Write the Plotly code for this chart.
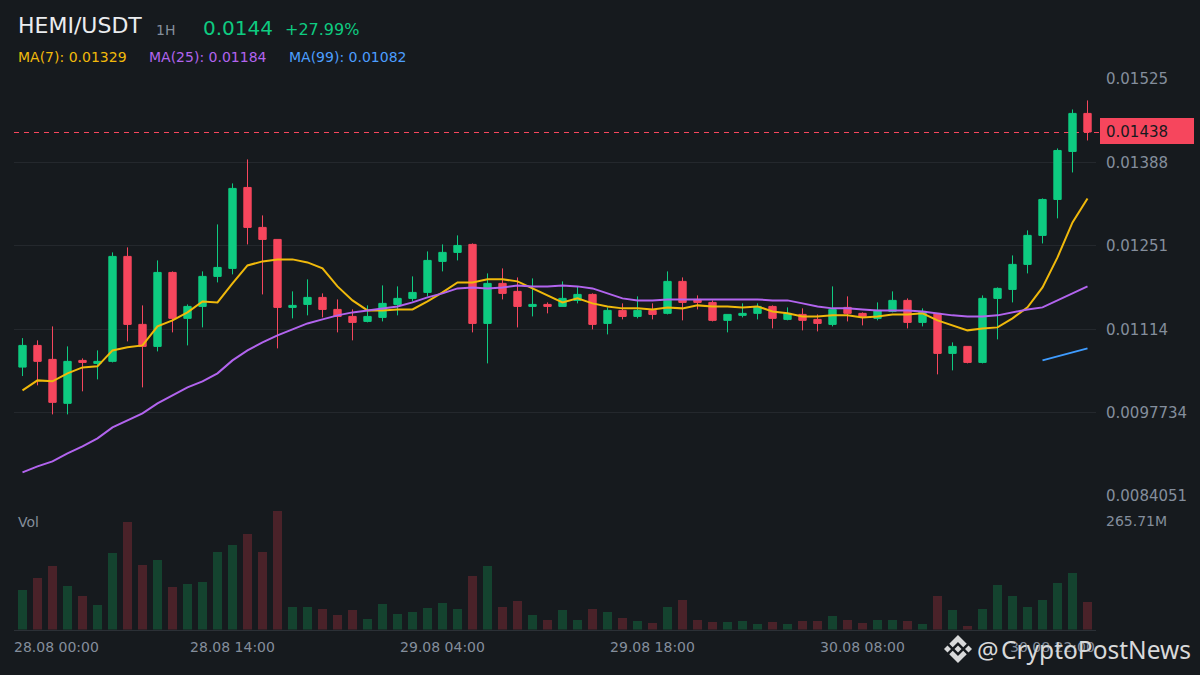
import pandas as pd
import plotly.graph_objects as go

# Données (bougies 1H)
times = pd.date_range("2025-08-28 00:00", periods=72, freq="h")

opens = [0.010521, 0.010877, 0.010648, 0.009926, 0.010631, 0.010582, 0.010615, 0.012338, 0.011222, 0.010861, 0.012075, 0.011321,
         0.011517, 0.012010, 0.012141, 0.013470, 0.012814, 0.012617, 0.011501, 0.011550, 0.011665, 0.011468, 0.011353, 0.011271,
         0.011337, 0.011550, 0.011649, 0.011747, 0.012256, 0.012404, 0.012535, 0.011238, 0.011895, 0.011764, 0.011517, 0.011550,
         0.011517, 0.011616, 0.011714, 0.011238, 0.011452, 0.011353, 0.011452, 0.011403, 0.011928, 0.011632, 0.011583, 0.011288,
         0.011370, 0.011403, 0.011517, 0.011304, 0.011386, 0.011304, 0.011222, 0.011501, 0.011403, 0.011321, 0.011435, 0.011616,
         0.011255, 0.011403, 0.010746, 0.010861, 0.010598, 0.011649, 0.011796, 0.012207, 0.012683, 0.013273, 0.014061, 0.014685]
highs = [0.010997, 0.010960, 0.011189, 0.010861, 0.010664, 0.010795, 0.012404, 0.012486, 0.011534, 0.012272, 0.012092, 0.011550,
         0.012092, 0.012863, 0.013536, 0.013930, 0.013011, 0.012617, 0.011764, 0.011961, 0.011731, 0.011632, 0.011468, 0.011534,
         0.011862, 0.011846, 0.012010, 0.012420, 0.012535, 0.012683, 0.012551, 0.012059, 0.012141, 0.011993, 0.011977, 0.011583,
         0.011928, 0.011846, 0.011731, 0.011501, 0.011567, 0.011682, 0.011567, 0.012092, 0.011993, 0.011698, 0.011616, 0.011386,
         0.011567, 0.011567, 0.011534, 0.011501, 0.011485, 0.011386, 0.011846, 0.011682, 0.011419, 0.011583, 0.011764, 0.011649,
         0.011485, 0.011403, 0.010927, 0.010861, 0.011698, 0.011829, 0.012354, 0.012765, 0.013290, 0.014110, 0.014750, 0.014898]
lows = [0.010374, 0.010221, 0.009745, 0.009745, 0.010123, 0.010319, 0.010598, 0.010943, 0.010188, 0.010779, 0.011091, 0.010877,
        0.011173, 0.011911, 0.012043, 0.012535, 0.011714, 0.010828, 0.011321, 0.011370, 0.011337, 0.011091, 0.010960, 0.011255,
        0.011271, 0.011370, 0.011599, 0.011682, 0.012092, 0.012272, 0.011091, 0.010582, 0.011632, 0.011173, 0.011353, 0.011403,
        0.011517, 0.011567, 0.011140, 0.011058, 0.011304, 0.011321, 0.011304, 0.011386, 0.011288, 0.011468, 0.011271, 0.011091,
        0.011337, 0.011304, 0.011156, 0.011288, 0.011124, 0.011107, 0.011189, 0.011271, 0.011206, 0.011288, 0.011419, 0.011156,
        0.011189, 0.010402, 0.010467, 0.010582, 0.010582, 0.010976, 0.011583, 0.012059, 0.012551, 0.012962, 0.013716, 0.014241]
closes = [0.010877, 0.010615, 0.009942, 0.010615, 0.010598, 0.010615, 0.012338, 0.011222, 0.010861, 0.012075, 0.011321, 0.011517,
          0.012010, 0.012157, 0.013454, 0.012814, 0.012617, 0.011501, 0.011534, 0.011665, 0.011468, 0.011353, 0.011255, 0.011353,
          0.011567, 0.011649, 0.011747, 0.012272, 0.012404, 0.012518, 0.011238, 0.011895, 0.011731, 0.011517, 0.011550, 0.011517,
          0.011649, 0.011714, 0.011222, 0.011452, 0.011353, 0.011452, 0.011386, 0.011928, 0.011583, 0.011583, 0.011288, 0.011386,
          0.011403, 0.011517, 0.011321, 0.011403, 0.011288, 0.011238, 0.011468, 0.011403, 0.011353, 0.011452, 0.011616, 0.011255,
          0.011435, 0.010746, 0.010861, 0.010598, 0.011649, 0.011813, 0.012207, 0.012683, 0.013273, 0.014077, 0.014685, 0.014380]

ma7 = [0.010139, 0.010303, 0.010287, 0.010418, 0.010516, 0.010533, 0.010795, 0.010845, 0.010877, 0.011189, 0.011288, 0.011419,
       0.011599, 0.011583, 0.011895, 0.012190, 0.012256, 0.012289, 0.012289, 0.012239, 0.012141, 0.011846, 0.011616, 0.011452,
       0.011452, 0.011468, 0.011468, 0.011599, 0.011747, 0.011911, 0.011911, 0.011961, 0.011961, 0.011928, 0.011813, 0.011698,
       0.011583, 0.011649, 0.011567, 0.011517, 0.011485, 0.011485, 0.011468, 0.011501, 0.011485, 0.011534, 0.011517, 0.011517,
       0.011501, 0.011517, 0.011435, 0.011403, 0.011353, 0.011353, 0.011370, 0.011370, 0.011337, 0.011353, 0.011386, 0.011386,
       0.011403, 0.011288, 0.011206, 0.011124, 0.011156, 0.011173, 0.011321, 0.011501, 0.011829, 0.012322, 0.012896, 0.013290]
ma25 = [0.008793, 0.008892, 0.008974, 0.009105, 0.009220, 0.009351, 0.009532, 0.009647, 0.009762, 0.009926, 0.010057, 0.010188,
        0.010287, 0.010418, 0.010631, 0.010795, 0.010927, 0.011042, 0.011140, 0.011238, 0.011304, 0.011370, 0.011419, 0.011452,
        0.011485, 0.011517, 0.011583, 0.011665, 0.011731, 0.011813, 0.011829, 0.011813, 0.011829, 0.011862, 0.011846, 0.011846,
        0.011862, 0.011846, 0.011813, 0.011731, 0.011649, 0.011616, 0.011616, 0.011632, 0.011632, 0.011632, 0.011632, 0.011632,
        0.011632, 0.011632, 0.011616, 0.011616, 0.011567, 0.011517, 0.011485, 0.011485, 0.011468, 0.011452, 0.011452, 0.011452,
        0.011435, 0.011403, 0.011370, 0.011353, 0.011353, 0.011370, 0.011419, 0.011468, 0.011501, 0.011616, 0.011731, 0.011846]
ma99 = [0.010631, 0.010697, 0.010763, 0.010828]

volumes = [96.8, 126.3, 155.8, 106.6, 82.0, 59.9, 187.8, 264.0, 158.3, 170.6, 104.1, 111.5,
           116.4, 190.2, 207.5, 234.5, 190.2, 291.1, 54.9, 54.9, 50.0, 35.3, 47.6, 25.4,
           62.3, 37.7, 42.6, 52.5, 64.8, 50.0, 131.2, 155.8, 54.9, 69.7, 35.3, 23.0,
           47.6, 23.0, 50.0, 42.6, 27.9, 20.5, 15.6, 54.9, 72.2, 23.0, 18.0, 18.0,
           20.5, 13.1, 18.0, 13.1, 20.5, 20.5, 32.8, 23.0, 15.6, 23.0, 23.0, 20.5,
           13.1, 82.0, 47.6, 8.2, 50.0, 109.1, 82.0, 54.9, 72.2, 114.0, 138.6, 67.2]

price_ticks = [0.01525, 0.01388, 0.01251, 0.01114, 0.0097734, 0.0084051]
price_labels = ["0.01525", "0.01388", "0.01251", "0.01114", "0.0097734", "0.0084051"]
date_ticks = ["2025-08-28 14:00", "2025-08-29 04:00", "2025-08-29 18:00", "2025-08-30 08:00"]
date_labels = ["28.08 14:00", "29.08 04:00", "29.08 18:00", "30.08 08:00"]

# Couleurs
BG = "#161A1E"
UP = "#0ECB81"
DOWN = "#F6465D"
GREY = "#848E9C"
GRID = "#24282D"
FONT = "DejaVu Sans"


# Passage des pixels de la capture au repère "paper"
def px_x(x):
    return x / 1200


def px_y(y):
    return 1 - y / 675


vol_colors = ["#14432F" if c >= o else "#4A2229" for o, c in zip(opens, closes)]

fig = go.Figure()
fig.add_trace(go.Bar(x=times, y=[v * 1e6 for v in volumes], yaxis="y2", width=3600000 * 0.6,
                     marker=dict(color=vol_colors, line=dict(width=0))))
fig.add_trace(go.Candlestick(x=times, open=opens, high=highs, low=lows, close=closes,
                             increasing=dict(line=dict(color=UP, width=1), fillcolor=UP),
                             decreasing=dict(line=dict(color=DOWN, width=1), fillcolor=DOWN),
                             whiskerwidth=0))
fig.add_trace(go.Scatter(x=times, y=ma7, mode="lines", line=dict(color="#F0B90B", width=2)))
fig.add_trace(go.Scatter(x=times, y=ma25, mode="lines", line=dict(color="#B264EE", width=2)))
fig.add_trace(go.Scatter(x=times[-4:], y=ma99, mode="lines", line=dict(color="#3F9CFF", width=2)))


def label(x, y, text, color, size, anchor="left", family=FONT):
    fig.add_annotation(x=px_x(x), y=px_y(y), xref="paper", yref="paper",
                       text=text, showarrow=False, xanchor=anchor, yanchor="middle",
                       font=dict(family=family, size=size, color=color), borderpad=0)


# Titre et légende
label(17, 26, "HEMI/USDT", "#EAECEF", 22)
label(155, 30, "1H", GREY, 14)
label(202, 28, "0.0144", UP, 20)
label(284, 29, "+27.99%", UP, 16)
label(17, 57, "MA(7): 0.01329", "#F0B90B", 14)
label(148, 57, "MA(25): 0.01184", "#B264EE", 14)
label(288, 57, "MA(99): 0.01082", "#4C9EFF", 14)
label(17, 522, "Vol", GREY, 14)

# Dates aux extrémités, décalées pour rester dans le cadre
label(13, 647, "28.08 00:00", GREY, 14)
label(1096, 647, "30.08 22:00", GREY, 14, anchor="right")

# Dernier prix
fig.add_shape(type="line", xref="paper", yref="paper", x0=px_x(14), x1=px_x(1100), y0=px_y(132.5), y1=px_y(132.5),
              line=dict(color=DOWN, width=1, dash="5px,5px"), layer="below")
fig.add_shape(type="rect", xref="paper", yref="paper", x0=px_x(1100), x1=px_x(1194), y0=px_y(118), y1=px_y(144),
              fillcolor=DOWN, line=dict(width=0))
label(1105, 132, "0.01438", BG, 15)

# Filigrane
logo_cx, logo_cy = 958, 649
logo_parts = [
    [(-8.75, -5.25), (0, -14), (8.75, -5.25), (5.25, -1.75), (0, -7), (-5.25, -1.75)],
    [(-8.75, 5.25), (0, 14), (8.75, 5.25), (5.25, 1.75), (0, 7), (-5.25, 1.75)],
    [(-3.5, 0), (0, -3.5), (3.5, 0), (0, 3.5)],
    [(-14, 0), (-10.5, -3.5), (-7, 0), (-10.5, 3.5)],
    [(14, 0), (10.5, -3.5), (7, 0), (10.5, 3.5)],
]
for part in logo_parts:
    path = "M " + " L ".join(f"{px_x(logo_cx + a):.5f},{px_y(logo_cy + b):.5f}" for a, b in part) + " Z"
    fig.add_shape(type="path", xref="paper", yref="paper", path=path, fillcolor="#D8D9DA", line=dict(width=0))
label(976, 649, "@", "#D8D9DA", 24, family="Noto Sans")
label(1192, 649, "CryptoPostNews", "#D8D9DA", 24.5, anchor="right", family="Noto Sans")

fig.update_layout(
    width=1200, height=675, autosize=False,
    margin=dict(l=0, r=0, t=0, b=0, autoexpand=False),
    paper_bgcolor=BG, plot_bgcolor=BG,
    showlegend=False, bargap=0,
    font=dict(family=FONT, color=GREY, size=14),
    xaxis=dict(type="date", domain=[px_x(14), px_x(1096)], anchor="y2",
               range=["2025-08-27 23:26", "2025-08-30 23:34"],
               tickvals=date_ticks, ticktext=date_labels, tickfont=dict(size=14, color=GREY),
               showgrid=False, zeroline=False, showline=True, linecolor="#2B3036", linewidth=1,
               ticks="", ticklabelstandoff=5, rangeslider=dict(visible=False)),
    yaxis=dict(domain=[px_y(496), px_y(79)], range=[0.0084051, 0.01525], anchor="x", side="right",
               tickvals=price_ticks, ticktext=price_labels, tickfont=dict(size=15, color=GREY),
               showgrid=True, gridcolor=GRID, gridwidth=1, zeroline=False, showline=False,
               ticks="", ticklabelstandoff=9),
    yaxis2=dict(domain=[px_y(629.5), px_y(510)], range=[0, 294e6], anchor="x", side="right",
                tickvals=[265.71e6], ticktext=["265.71M"], tickfont=dict(size=14, color=GREY),
                showgrid=False, zeroline=False, showline=False, ticks="", ticklabelstandoff=9),
)

fig.write_html("out.html", config={"displayModeBar": False},
               post_script="document.body.style.margin='0';document.body.style.background='#161A1E';")
